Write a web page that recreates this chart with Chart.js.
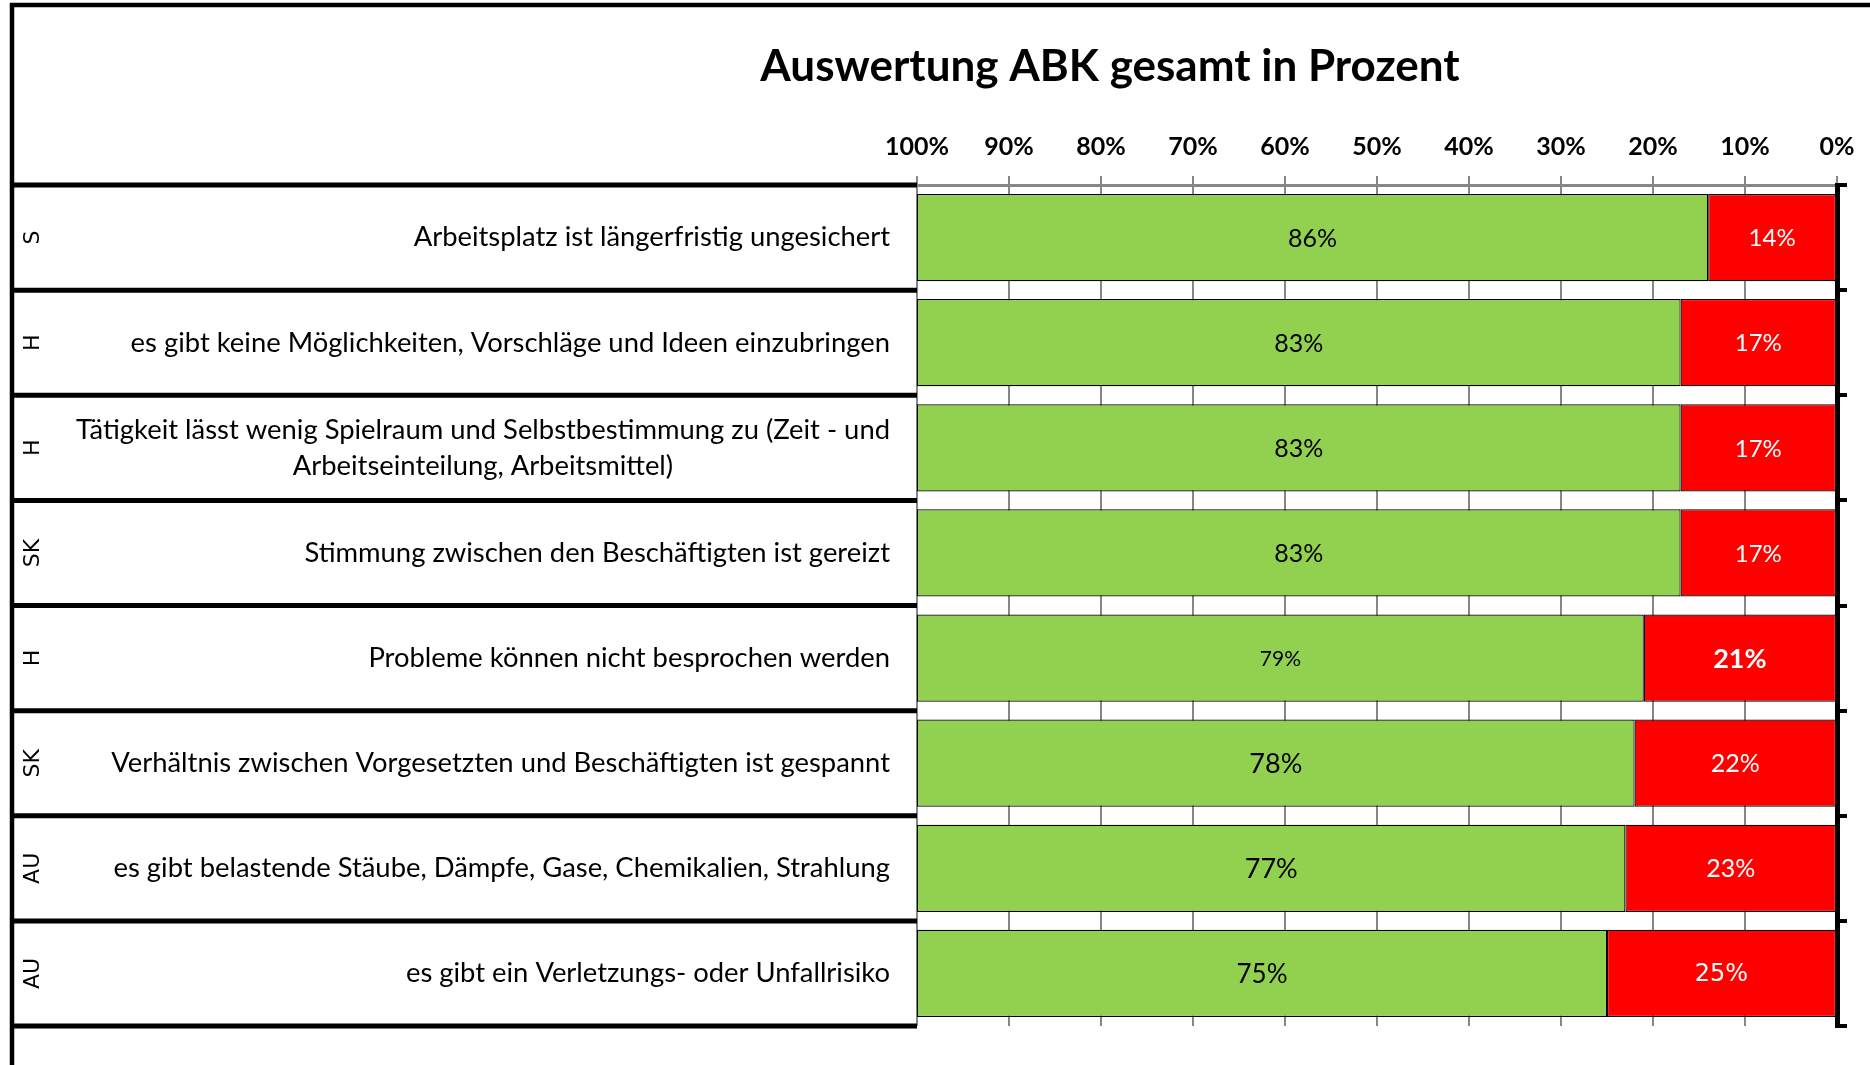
<!DOCTYPE html>
<html>
<head>
<meta charset="utf-8">
<title>Auswertung ABK</title>
<script src="https://cdn.jsdelivr.net/npm/chart.js@4.4.1/dist/chart.umd.min.js"></script>
<style>
  html, body { margin: 0; padding: 0; background: #fff; }
  #wrap { width: 1870px; height: 1065px; }
</style>
</head>
<body>
<div id="wrap"><canvas id="abkChart" width="1870" height="1065"></canvas></div>
<script>
// chart data
const chartTitle = 'Auswertung ABK gesamt in Prozent';
const codes = ['S', 'H', 'H', 'SK', 'H', 'SK', 'AU', 'AU'];
const statements = [
    'Arbeitsplatz ist längerfristig ungesichert',
    'es gibt keine Möglichkeiten, Vorschläge und Ideen einzubringen',
    ['Tätigkeit lässt wenig Spielraum und Selbstbestimmung zu (Zeit - und', 'Arbeitseinteilung, Arbeitsmittel)'],
    'Stimmung zwischen den Beschäftigten ist gereizt',
    'Probleme können nicht besprochen werden',
    'Verhältnis zwischen Vorgesetzten und Beschäftigten ist gespannt',
    'es gibt belastende Stäube, Dämpfe, Gase, Chemikalien, Strahlung',
    'es gibt ein Verletzungs- oder Unfallrisiko'
];
const greenShare = [86, 83, 83, 83, 79, 78, 77, 75];
const redShare = [14, 17, 17, 17, 21, 22, 23, 25];
const tickValues = [0, 10, 20, 30, 40, 50, 60, 70, 80, 90, 100];

// label fonts differ a bit per cell in the original sheet
const greenLabelFonts = ['25px Lato', '25px Lato', '25px Lato', '25px Lato', '21px Lato', '27px Lato', '27px Lato', '26px Lato'];
const redLabelFonts = ['24px Lato', '24px Lato', '24px Lato', '24px Lato', 'bold 27px Lato', '25px Lato', '25px Lato', '24px "DejaVu Sans"'];

const FRAME_X = 12;
const TEXT_RIGHT = 890;

// draws the table part on the left, the frame, the title and the bar labels
const sheetPlugin = {
    id: 'sheet',
    afterDraw(chart) {
        const ctx = chart.ctx;
        const area = chart.chartArea;
        const y = chart.scales.y;

        // row borders from the category scale
        const centers = codes.map((c, i) => y.getPixelForValue(i));
        const bounds = [area.top];
        for (let i = 0; i < centers.length - 1; i++) {
            bounds.push((centers[i] + centers[i + 1]) / 2);
        }
        bounds.push(area.bottom);

        ctx.save();
        ctx.strokeStyle = '#000';
        ctx.lineWidth = 5;
        bounds.forEach(b => {
            ctx.beginPath();
            ctx.moveTo(FRAME_X, b);
            ctx.lineTo(area.left, b);
            ctx.stroke();
        });

        // outer frame
        ctx.lineWidth = 4.5;
        ctx.beginPath();
        ctx.moveTo(FRAME_X, chart.height);
        ctx.lineTo(FRAME_X, 5);
        ctx.lineTo(chart.width, 5);
        ctx.stroke();

        // title
        ctx.fillStyle = '#000';
        ctx.font = 'bold 44px Lato';
        ctx.textAlign = 'center';
        ctx.textBaseline = 'middle';
        ctx.fillText(chartTitle, 1110, 67);

        // codes, rotated
        ctx.font = '22px "DejaVu Sans"';
        centers.forEach((cy, i) => {
            ctx.save();
            ctx.translate(33, cy);
            ctx.rotate(-Math.PI / 2);
            ctx.textAlign = 'center';
            ctx.fillText(codes[i], 0, 0);
            ctx.restore();
        });

        // statements
        ctx.font = '27.4px Lato';
        statements.forEach((s, i) => {
            const lines = Array.isArray(s) ? s : [s];
            const widest = Math.max(...lines.map(l => ctx.measureText(l).width));
            const lineH = 36;
            const y0 = centers[i] - (lines.length - 1) * lineH / 2;
            lines.forEach((l, k) => {
                ctx.textAlign = lines.length > 1 ? 'center' : 'right';
                const x = lines.length > 1 ? TEXT_RIGHT - widest / 2 : TEXT_RIGHT;
                ctx.fillText(l, x, y0 + k * lineH);
            });
        });

        // value labels in the middle of each bar piece
        chart.data.datasets.forEach((ds, di) => {
            const meta = chart.getDatasetMeta(di);
            meta.data.forEach((bar, i) => {
                const cx = (bar.x + bar.base) / 2;
                ctx.font = di === 0 ? redLabelFonts[i] : greenLabelFonts[i];
                ctx.fillStyle = di === 0 ? '#fff' : '#000';
                ctx.textAlign = 'center';
                ctx.fillText(ds.data[i] + '%', cx, bar.y + 1);
            });
        });
        ctx.restore();
    }
};

new Chart(document.getElementById('abkChart'), {
    type: 'bar',
    data: {
        labels: codes,
        datasets: [
            {
                label: 'rot',
                data: redShare,
                backgroundColor: '#FF0000',
                borderColor: '#000',
                borderWidth: 1.2,
                borderSkipped: false
            },
            {
                label: 'grün',
                data: greenShare,
                backgroundColor: '#92D050',
                borderColor: '#000',
                borderWidth: 1.2,
                borderSkipped: false
            }
        ]
    },
    options: {
        indexAxis: 'y',
        responsive: false,
        animation: false,
        barPercentage: 0.83,
        categoryPercentage: 1,
        layout: { padding: { top: 92, left: 917, right: 0, bottom: 39 } },
        plugins: {
            legend: { display: false },
            tooltip: { enabled: false },
            title: { display: false }
        },
        scales: {
            x: {
                position: 'top',
                reverse: true,
                stacked: true,
                min: 0,
                max: 100,
                afterBuildTicks: scale => {
                    scale.ticks = tickValues.map(v => ({ value: v }));
                },
                afterFit: scale => { scale.height = 93; },
                ticks: {
                    callback: v => v + '%',
                    color: '#000',
                    font: { family: 'Lato', weight: 'bold', size: 25 },
                    padding: 14,
                    maxRotation: 0,
                    autoSkip: false
                },
                grid: { color: '#878787', lineWidth: 2, tickLength: 9 },
                border: { color: '#878787', width: 3 }
            },
            y: {
                position: 'right',
                stacked: true,
                afterFit: scale => { scale.width = 33; },
                ticks: { display: false },
                grid: {
                    drawOnChartArea: false,
                    offset: true,
                    color: '#000',
                    lineWidth: 4,
                    tickLength: 10
                },
                border: { color: '#000', width: 5 }
            }
        }
    },
    plugins: [sheetPlugin]
});
</script>
</body>
</html>
